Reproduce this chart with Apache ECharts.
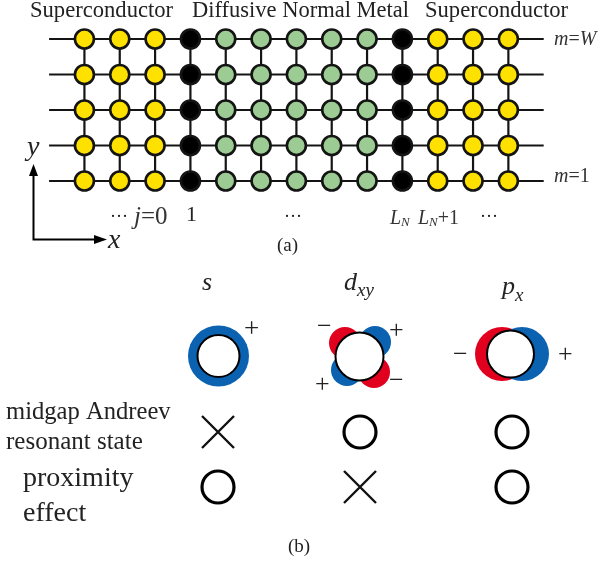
<!DOCTYPE html>
<html><head><meta charset="utf-8">
<script src="https://cdn.jsdelivr.net/npm/echarts@6/dist/echarts.min.js"></script>
<style>html,body{margin:0;background:#fff}#c{width:606px;height:565px}</style></head>
<body><div id="c"></div>
<script>
const sites = [-2,-1,0,1,2,3,4,5,6,7,8,9,10];
const rows = [1,2,3,4,5];
const superconductorSites = [-2,-1,0,8,9,10];
const interfaceSites = [1,7];
const normalSites = [2,3,4,5,6];
const leadEnds = [-3,11];
const pairings = ['s','dxy','px'];
const effects = ['midgap Andreev resonant state','proximity effect'];
const midgapMarks = ['cross','circle','circle'];
const proximityMarks = ['circle','cross','circle'];

const INK='#141414', SERIF='"Liberation Serif","Times New Roman",serif';
const pts = list => list.flatMap(j => rows.map(m => [j,m]));
const nodeSeries = (list,color) => ({type:'scatter',xAxisIndex:0,yAxisIndex:0,symbol:'circle',symbolSize:19,z:5,
  data:pts(list),itemStyle:{color,borderColor:INK,borderWidth:2.6,opacity:1}});
const bond = data => ({type:'line',xAxisIndex:0,yAxisIndex:0,data,symbol:'none',silent:true,z:2,
  lineStyle:{color:INK,width:2.2},animation:false});

const series = [];
rows.forEach(m => series.push(bond([[leadEnds[0],m],[leadEnds[1],m]])));
sites.forEach(j => series.push(bond([[j,rows[0]],[j,rows[rows.length-1]]])));
series.push(nodeSeries(superconductorSites,'#ffe100'));
series.push(nodeSeries(normalSites,'#9dcb94'));
series.push(nodeSeries(interfaceSites,'#000'));

const markSeries = (mark,path,size,style) => ({type:'scatter',xAxisIndex:1,yAxisIndex:1,symbol:path,symbolSize:size,z:5,
  symbolKeepAspect:true,
  data:[midgapMarks,proximityMarks].flatMap((r,ri)=>r.flatMap((k,ci)=>k===mark?[{value:[pairings[ci],effects[ri]],symbolOffset:[ci===1?-5:0,0]}]:[])),
  itemStyle:style});
series.push(markSeries('circle','circle',32,{color:'transparent',borderColor:'#000',borderWidth:3.2,opacity:1}));
series.push(markSeries('cross','path://M0 0L10 10M10 0L0 10',32,{color:'transparent',borderColor:'#111',borderWidth:2.4,opacity:1}));

const T = (text,x,y,size,o={}) => ({type:'text',x,y,z:20,style:Object.assign({text,fontFamily:SERIF,fontSize:size,fill:'#222',
  align:'left',verticalAlign:'middle'},o)});
const rich = {
  i:{fontFamily:SERIF,fontStyle:'italic',fontSize:20,fill:'#333'},
  r:{fontFamily:SERIF,fontSize:20,fill:'#333'},
  ib:{fontFamily:SERIF,fontStyle:'italic',fontSize:25,fill:'#333'},
  rb:{fontFamily:SERIF,fontSize:25,fill:'#333'},
  sub:{fontFamily:SERIF,fontStyle:'italic',fontSize:13,fill:'#333',verticalAlign:'bottom',padding:[6,0,0,0]}
};
const C = (x,y,r,fill,o={}) => ({type:'circle',shape:{cx:x,cy:y,r},z:o.z||10,style:Object.assign({fill},o.s||{})});
const ring = (x,y,r) => C(x,y,r,'#fff',{z:12,s:{stroke:'#000',lineWidth:2}});
const BLUE='#0b62b0', RED='#e2001f';

const graphic = [
  T('Superconductor',30,11,22.6),
  T('Diffusive Normal Metal',192,11,22.5),
  T('Superconductor',425,11,22.6),
  T('{i|m}{r|=}{i|W}',554,40,20,{rich}),
  T('{i|m}{r|=1}',554,177,20,{rich}),
  T('···',110,217,18),
  T('{ib|j}{rb|=0}',134,217,25,{rich}),
  T('1',186,215,22),
  T('···',284,217,18),
  T('{i|L}{sub|N}',390,219,20,{rich}),
  T('{i|L}{sub|N}{r|+1}',418,219,20,{rich}),
  T('···',480,217,18),
  T('y',27,148,28,{fontStyle:'italic'}),
  T('x',108,241,28,{fontStyle:'italic'}),
  T('(a)',277,246,19),
  T('(b)',288,547,19),
  {type:'polyline',z:15,shape:{points:[[33.5,172],[33.5,239.5],[100,239.5]]},style:{stroke:'#000',lineWidth:2,fill:'none'}},
  {type:'polygon',z:15,shape:{points:[[33.5,164],[29,176],[38,176]]},style:{fill:'#000'}},
  {type:'polygon',z:15,shape:{points:[[107,239.5],[94,235],[94,244]]},style:{fill:'#000'}},

  T('s',202,283,26,{fontStyle:'italic'}),
  T('d',344,283,26,{fontStyle:'italic'}),
  T('xy',357,291,19,{fontStyle:'italic'}),
  T('p',502,287,26,{fontStyle:'italic'}),
  T('x',515,296,19,{fontStyle:'italic'}),

  C(218.5,356,30.5,BLUE), ring(218.5,356,21),
  T('+',244,330,27),

  C(345,343,16,RED), C(375,342,16,BLUE), C(347,370,16,BLUE), C(374,372,16,RED), ring(359.5,356.5,24),
  T('−',317,327,26), T('+',389,331,26), T('+',315,385,26), T('−',389,381,26),

  C(502,354,27,RED), C(522,354,27,BLUE), ring(510.5,354,23.5),
  T('−',453,355,26), T('+',558,355,26),

  T('midgap Andreev',6,413,24.6),
  T('resonant state',6,442,25),
  T('proximity',23,479,28),
  T('effect',23,514,28)
];

const chart = echarts.init(document.getElementById('c'),null,{renderer:'canvas'});
chart.setOption({
  animation:false,backgroundColor:'#fff',
  grid:[
    {left:49.1,top:39,width:494.6,height:142},
    {left:144.5,top:404.5,width:441,height:110}
  ],
  xAxis:[
    {type:'value',gridIndex:0,min:leadEnds[0],max:leadEnds[1],show:false},
    {type:'category',gridIndex:1,data:pairings,show:false}
  ],
  yAxis:[
    {type:'value',gridIndex:0,min:rows[0],max:rows[rows.length-1],show:false},
    {type:'category',gridIndex:1,data:effects,inverse:true,show:false}
  ],
  series,graphic
});
</script></body></html>
